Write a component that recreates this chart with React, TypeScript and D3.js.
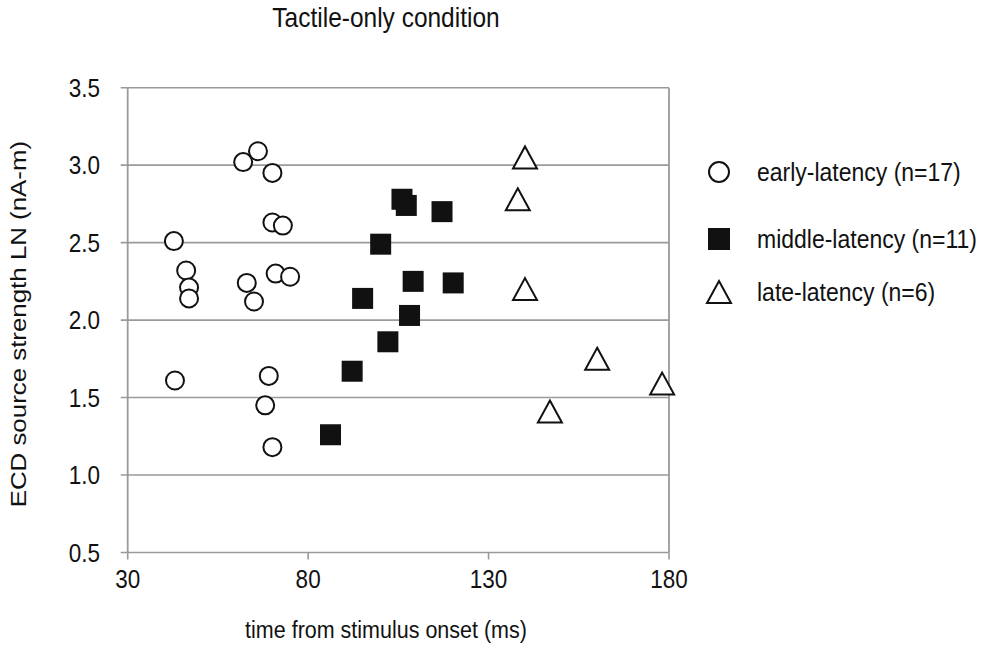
import { useEffect } from "react";
import * as d3 from "d3";

// ── Data ──────────────────────────────────────────────────────────────────
const earlyX = [42.8, 46.2, 47.0, 47.0, 43.1, 62.0, 66.1, 70.1, 70.1, 73.0, 63.0, 65.0, 71.0, 75.0, 69.1, 68.1, 70.1];
const earlyY = [2.51, 2.32, 2.21, 2.14, 1.61, 3.02, 3.09, 2.95, 2.63, 2.61, 2.24, 2.12, 2.30, 2.28, 1.64, 1.45, 1.18];

const middleX = [106.0, 107.2, 117.1, 100.1, 109.1, 120.2, 95.1, 108.1, 102.1, 92.2, 86.2];
const middleY = [2.78, 2.74, 2.70, 2.49, 2.25, 2.24, 2.14, 2.03, 1.86, 1.67, 1.26];

const lateX = [140.1, 138.1, 140.1, 160.1, 178.1, 147.0];
const lateY = [3.05, 2.78, 2.20, 1.75, 1.59, 1.41];

const xTicks = [30, 80, 130, 180];
const yTicks = [0.5, 1.0, 1.5, 2.0, 2.5, 3.0, 3.5];

const legendLabels = ["early-latency (n=17)", "middle-latency (n=11)", "late-latency (n=6)"];

const W = 992;
const H = 648;
const FONT = "'Liberation Sans', Arial, sans-serif";
const GRID = "#9a9a9a";
const INK = "#111";
const STRETCH = 1.15; // the source picture's text is slightly taller than wide

function trianglePath(cx: number, cy: number, w = 24, h = 22) {
  const p = d3.path();
  p.moveTo(cx, cy - h / 2);
  p.lineTo(cx + w / 2, cy + h / 2);
  p.lineTo(cx - w / 2, cy + h / 2);
  p.closePath();
  return p.toString();
}

function Label({ x, y, size, anchor = "start", dy, children }: {
  x: number; y: number; size: number; anchor?: string; dy?: string; children: React.ReactNode;
}) {
  return (
    <text
      transform={`translate(${x},${y}) scale(1,${STRETCH})`}
      textAnchor={anchor}
      dy={dy}
      fontSize={size}
      fill={INK}
    >
      {children}
    </text>
  );
}

export default function App() {
  useEffect(() => {
    document.body.style.margin = "0";
  }, []);

  const x = d3.scaleLinear().domain([30, 180]).range([127.7, 669]);
  const y = d3.scaleLinear().domain([0.5, 3.5]).range([552.5, 87.7]);

  const [x0, x1] = x.range();
  const [y0, y1] = y.range();

  const legendX = 719;
  const legendY = [172, 239, 292];

  return (
    <svg width={W} height={H} style={{ display: "block", background: "#fff" }} fontFamily={FONT}>
      {/* title */}
      <Label x={386} y={27} size={24.5} anchor="middle">Tactile-only condition</Label>

      {/* horizontal gridlines + left ticks */}
      {yTicks.map((t) => (
        <g key={t}>
          <line x1={x0 - 7} x2={x1} y1={y(t)} y2={y(t)} stroke={GRID} strokeWidth={1.6} />
          <Label x={100} y={y(t)} size={22.5} anchor="end" dy="0.35em">{t.toFixed(1)}</Label>
        </g>
      ))}

      {/* axis frame */}
      <line x1={x0} x2={x0} y1={y1} y2={y0} stroke={GRID} strokeWidth={1.8} />
      <line x1={x1} x2={x1} y1={y1} y2={y0} stroke={GRID} strokeWidth={1.8} />

      {/* bottom ticks */}
      {xTicks.map((t) => (
        <g key={t}>
          <line x1={x(t)} x2={x(t)} y1={y0} y2={y0 + 7} stroke={GRID} strokeWidth={1.6} />
          <Label x={x(t)} y={588} size={22.5} anchor="middle">{t}</Label>
        </g>
      ))}

      {/* axis titles */}
      <Label x={386} y={638} size={21.5} anchor="middle">time from stimulus onset (ms)</Label>
      <text
        transform={`translate(26,${(y0 + y1) / 2 + 4}) scale(1,${STRETCH}) rotate(-90)`}
        textAnchor="middle"
        fontSize={22.5}
        fill={INK}
      >
        ECD source strength LN (nA-m)
      </text>

      {/* early-latency circles */}
      {earlyX.map((v, i) => (
        <circle key={`e${i}`} cx={x(v)} cy={y(earlyY[i])} r={9} fill="#fff" stroke={INK} strokeWidth={2} />
      ))}

      {/* middle-latency squares */}
      {middleX.map((v, i) => (
        <rect key={`m${i}`} x={x(v) - 10.5} y={y(middleY[i]) - 10.5} width={21} height={21} fill={INK} />
      ))}

      {/* late-latency triangles */}
      {lateX.map((v, i) => (
        <path key={`l${i}`} d={trianglePath(x(v), y(lateY[i]))} fill="#fff" stroke={INK} strokeWidth={2} />
      ))}

      {/* legend */}
      <circle cx={legendX} cy={legendY[0]} r={10} fill="#fff" stroke={INK} strokeWidth={2} />
      <rect x={legendX - 11} y={legendY[1] - 11} width={22} height={22} fill={INK} />
      <path d={trianglePath(legendX, legendY[2])} fill="#fff" stroke={INK} strokeWidth={2} />
      {legendLabels.map((l, i) => (
        <Label key={l} x={757} y={legendY[i]} size={23} dy="0.35em">{l}</Label>
      ))}
    </svg>
  );
}
